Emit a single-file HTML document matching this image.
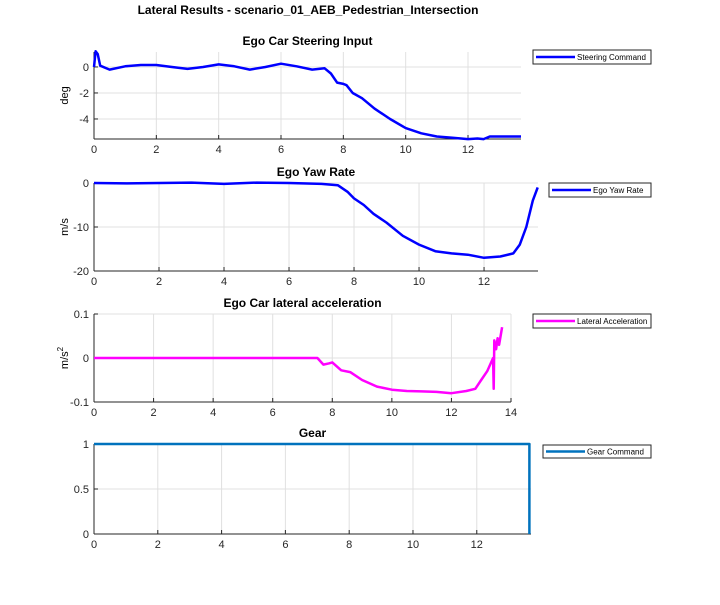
<!DOCTYPE html>
<html><head><meta charset="utf-8"><style>
body{margin:0;background:#fff}
svg text{font-family:"Liberation Sans",Arial,sans-serif}
</style></head><body>
<svg id="c" width="720" height="600" viewBox="0 0 720 600" xmlns="http://www.w3.org/2000/svg">
<text x="308" y="14" text-anchor="middle" font-size="12" font-weight="bold">Lateral Results - scenario_01_AEB_Pedestrian_Intersection</text>
</svg>
<script>
const steerT=[0,0.05,0.12,0.2,0.5,1,1.5,2,2.5,3,3.5,4,4.5,5,5.5,6,6.5,7,7.4,7.6,7.8,8.0,8.1,8.3,8.6,9,9.5,10,10.5,11,11.5,12,12.3,12.5,12.7,13.7];
const steerV=[0,1.2,1.0,0.1,-0.2,0.05,0.15,0.15,0,-0.15,0,0.2,0.05,-0.2,0,0.25,0.05,-0.2,-0.1,-0.5,-1.2,-1.3,-1.4,-2.0,-2.4,-3.2,-4.0,-4.7,-5.1,-5.35,-5.45,-5.55,-5.5,-5.55,-5.35,-5.35];
const yawT=[0,1,2,3,4,5,6,7,7.5,7.8,8,8.3,8.6,9,9.5,10,10.5,11,11.5,12,12.5,12.9,13.1,13.3,13.5,13.65];
const yawV=[0,-0.1,0,0.1,-0.2,0.1,0,-0.2,-0.5,-2,-3.5,-5,-7,-9,-12,-14,-15.5,-16,-16.3,-17,-16.7,-16,-14,-10,-4,-1];
const accT=[0,7.5,7.7,7.9,8.0,8.3,8.6,9,9.5,10,10.5,11,11.5,12,12.5,12.8,13,13.2,13.4,13.42,13.44,13.5,13.55,13.6,13.65,13.7];
const accV=[0,0,-0.015,-0.012,-0.01,-0.028,-0.032,-0.05,-0.065,-0.072,-0.075,-0.076,-0.077,-0.08,-0.075,-0.07,-0.05,-0.03,0,-0.07,0.04,0.02,0.045,0.03,0.05,0.07];
const gearT=[0,13.65,13.65];
const gearV=[1,1,0];
const xTicks1=[0,2,4,6,8,10,12];
const xTicks3=[0,2,4,6,8,10,12,14];
const steerYT=[0,-2,-4], yawYT=[0,-10,-20], accYT=[0.1,0,-0.1], gearYT=[1,0.5,0];

const svg=document.getElementById('c');
const NS='http://www.w3.org/2000/svg';
function mk(tag,at,parent){const e=document.createElementNS(NS,tag);for(const k in at)e.setAttribute(k,at[k]);(parent||svg).appendChild(e);return e;}
function panel(p){
  const g=mk('g',{});
  
  
  const sx=v=>p.x0+(v-p.xmin)/(p.xmax-p.xmin)*(p.x1-p.x0);
  const sy=v=>p.y1-(v-p.ymin)/(p.ymax-p.ymin)*(p.y1-p.y0);
  mk('rect',{x:p.x0,y:p.y0,width:p.x1-p.x0,height:p.y1-p.y0,fill:'#fff'},g);
  p.xt.forEach(t=>{const x=sx(t);
    mk('line',{x1:x,x2:x,y1:p.y0,y2:p.y1,stroke:'#e0e0e0','stroke-width':1},g);
    mk('line',{x1:x,x2:x,y1:p.y1,y2:p.y1-4,stroke:'#262626'},g);
    const tx=mk('text',{x:x,y:p.y1+14,'text-anchor':'middle','font-size':11,fill:'#262626'},g);tx.textContent=t;
    
    });
  p.yt.forEach(t=>{const y=sy(t);
    mk('line',{x1:p.x0,x2:p.x1,y1:y,y2:y,stroke:'#e0e0e0','stroke-width':1},g);
    mk('line',{x1:p.x0,x2:p.x0+4,y1:y,y2:y,stroke:'#262626'},g);
    const tx=mk('text',{x:p.x0-5,y:y+4,'text-anchor':'end','font-size':11,fill:'#262626'},g);tx.textContent=t;
    
    });
  mk('line',{x1:p.x0,x2:p.x1,y1:p.y1,y2:p.y1,stroke:'#262626'},g);
  mk('line',{x1:p.x0,x2:p.x0,y1:p.y0,y2:p.y1,stroke:'#262626'},g);
  const d=p.t.map((t,i)=>(i?'L':'M')+sx(t).toFixed(1)+','+sy(p.v[i]).toFixed(1)).join('');
  const path=mk('path',{d:d,fill:'none',stroke:p.color,'stroke-width':p.w||2.5,'stroke-linejoin':'round'},g);
  
  
  const ti=mk('text',{x:(p.x0+p.x1)/2,y:p.y0-7,'text-anchor':'middle','font-size':12,'font-weight':'bold'},g);ti.textContent=p.title;
  
  
  if(p.ylab){const cy=(p.y0+p.y1)/2;const yl=mk('text',{x:0,y:0,'text-anchor':'middle','font-size':11,transform:`translate(${p.x0-26},${cy}) rotate(-90)`},g);yl.innerHTML=p.ylab;
    
    }
  const L=p.leg;
  const lg=mk('g',{},g);
  
  
  mk('rect',{x:L[0],y:L[1],width:L[2]-L[0],height:L[3]-L[1],fill:'#fff',stroke:'#262626','stroke-width':1},lg);
  const my=(L[1]+L[3])/2;
  mk('line',{x1:L[0]+3,x2:L[0]+42,y1:my,y2:my,stroke:p.color,'stroke-width':2.5},lg);
  const lt=mk('text',{x:L[0]+44,y:my+3,'font-size':8,fill:'#000'},lg);lt.textContent=p.legText;
  
  
}
panel({name:'steering-plot',x0:94,x1:521,y0:52,y1:139,xmin:0,xmax:13.7,ymin:-5.54,ymax:1.15,xt:xTicks1,yt:steerYT,t:steerT,v:steerV,color:'#0000ff',title:'Ego Car Steering Input',ylab:'deg',leg:[533,50,651,64],legText:'Steering Command'});
panel({name:'yaw-rate-plot',x0:94,x1:538,y0:183,y1:271,xmin:0,xmax:13.66,ymin:-20,ymax:0,xt:xTicks1,yt:yawYT,t:yawT,v:yawV,color:'#0000ff',title:'Ego Yaw Rate',ylab:'m/s',leg:[549,183,651,197],legText:'Ego Yaw Rate'});
panel({name:'lateral-accel-plot',x0:94,x1:511,y0:314,y1:402,xmin:0,xmax:14,ymin:-0.1,ymax:0.1,xt:xTicks3,yt:accYT,t:accT,v:accV,color:'#ff00ff',title:'Ego Car lateral acceleration',ylab:'m/s<tspan dy="-5" font-size="8">2</tspan>',leg:[533,314,651,328],legText:'Lateral Acceleration'});
panel({name:'gear-plot',x0:94,x1:531,y0:444,y1:534,xmin:0,xmax:13.7,ymin:0,ymax:1,xt:xTicks1,yt:gearYT,t:gearT,v:gearV,color:'#0072bd',title:'Gear',ylab:'',leg:[543,445,651,458],legText:'Gear Command'});
</script>
</body></html>
